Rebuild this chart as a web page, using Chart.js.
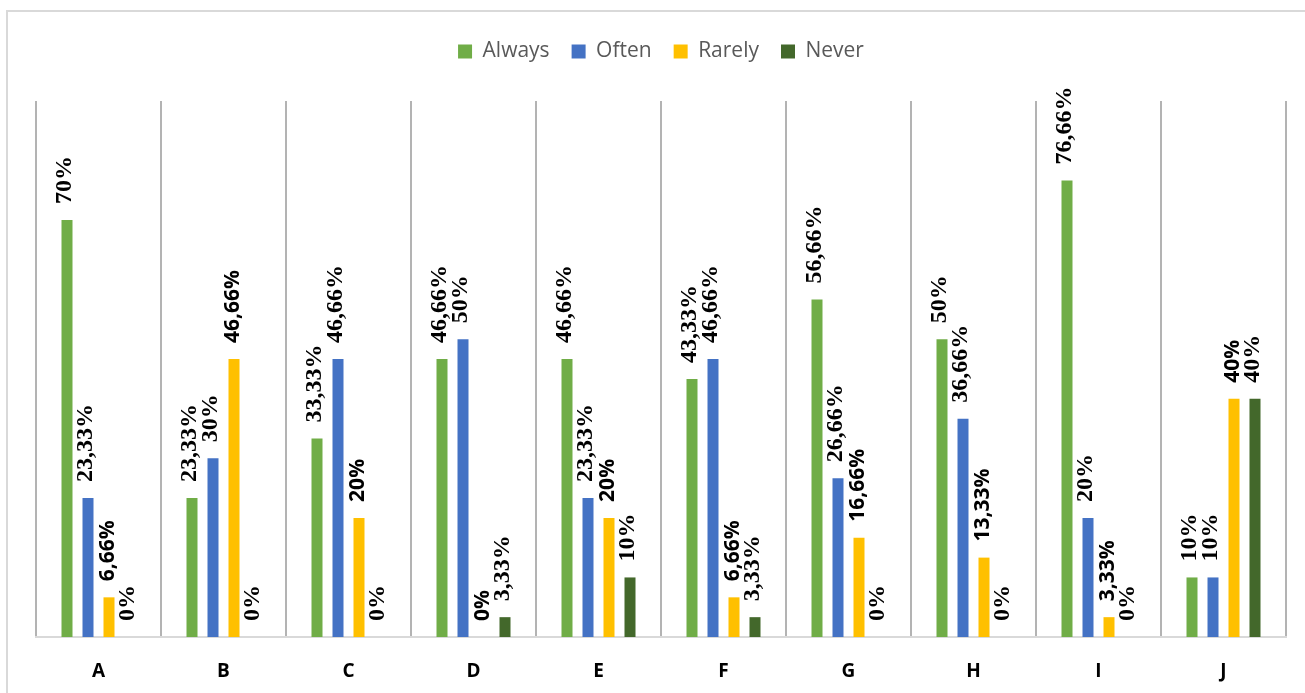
<!DOCTYPE html>
<html>
<head>
<meta charset="utf-8">
<script src="https://cdn.jsdelivr.net/npm/chart.js@4.4.1/dist/chart.umd.min.js"></script>
<style>
  html, body { margin: 0; padding: 0; background: #ffffff; }
  #wrap { position: relative; width: 1305px; height: 693px; }
  .preload { position: absolute; left: -9999px; top: 0; }
</style>
</head>
<body>
<div id="wrap"><canvas id="chart" width="1305" height="693"></canvas></div>
<span class="preload" style="font: bold 24px 'Liberation Serif'">0%</span>
<span class="preload" style="font: bold 21px 'Open Sans'">0%</span>
<span class="preload" style="font: 21px 'Open Sans'">Always</span>
<script>
// Survey answers per item, in percent
const categories = ['A', 'B', 'C', 'D', 'E', 'F', 'G', 'H', 'I', 'J'];
const always = [70, 23.33, 33.33, 46.66, 46.66, 43.33, 56.66, 50, 76.66, 10];
const often  = [23.33, 30, 46.66, 50, 23.33, 46.66, 26.66, 36.66, 20, 10];
const rarely = [6.66, 46.66, 20, 0, 20, 6.66, 16.66, 13.33, 3.33, 40];
const never  = [0, 0, 0, 3.33, 10, 3.33, 0, 0, 0, 40];
const seriesNames = ['Always', 'Often', 'Rarely', 'Never'];

const SERIF_LABEL = 'bold 24px "Liberation Serif", "DejaVu Serif", serif';
const SANS_LABEL = 'bold 21px "Open Sans", "Liberation Sans", sans-serif';

// Light frame around the whole chart
const framePlugin = {
  id: 'frame',
  beforeDraw(chart) {
    const ctx = chart.ctx;
    ctx.save();
    ctx.fillStyle = '#ffffff';
    ctx.fillRect(0, 0, chart.width, chart.height);
    ctx.strokeStyle = '#d9d9d9';
    ctx.lineWidth = 2;
    ctx.strokeRect(7, 11, 1400, 800);
    ctx.restore();
  }
};

// Extra room between legend and plot
const legendGapPlugin = {
  id: 'legendGap',
  beforeInit(chart) {
    const legend = chart.legend;
    if (!legend) return;
    const origFit = legend.fit;
    legend.fit = function () {
      origFit.call(this);
      this.height += 29;
    };
  }
};

// Vertical value labels above each bar
const valueLabelPlugin = {
  id: 'valueLabels',
  afterDatasetsDraw(chart) {
    const ctx = chart.ctx;
    chart.data.datasets.forEach((ds, di) => {
      const meta = chart.getDatasetMeta(di);
      if (meta.hidden) return;
      const font = ds.labelFont;
      ctx.save();
      ctx.font = font;
      const capH = ctx.measureText('0').actualBoundingBoxAscent || 16;
      ctx.restore();
      meta.data.forEach((bar, i) => {
        const v = ds.data[i];
        const text = String(v).replace('.', ',') + '%';
        ctx.save();
        ctx.translate(bar.x, bar.y - 16);
        ctx.rotate(-Math.PI / 2);
        ctx.font = font;
        ctx.fillStyle = '#000000';
        ctx.textAlign = 'left';
        ctx.textBaseline = 'alphabetic';
        ctx.fillText(text, 0, capH / 2);
        ctx.restore();
      });
    });
  }
};

const colors = ['#70AD47', '#4472C4', '#FFC000', '#43682B'];
const values = [always, often, rarely, never];
const labelFonts = [SERIF_LABEL, SERIF_LABEL, SANS_LABEL, SERIF_LABEL];

const datasets = seriesNames.map((name, i) => ({
  label: name,
  data: values[i],
  backgroundColor: colors[i],
  borderWidth: 0,
  categoryPercentage: 0.672,
  barPercentage: 0.524,
  labelFont: labelFonts[i]
}));

function build() {
  new Chart(document.getElementById('chart'), {
    type: 'bar',
    data: { labels: categories, datasets },
    options: {
      responsive: false,
      animation: false,
      devicePixelRatio: 1,
      layout: { padding: { top: 19, left: 36, right: 19, bottom: 0 } },
      plugins: {
        legend: {
          position: 'top',
          labels: {
            boxWidth: 14,
            boxHeight: 14,
            padding: 22,
            color: '#595959',
            font: { family: '"Open Sans", "Liberation Sans", sans-serif', size: 21 }
          }
        },
        tooltip: { enabled: false }
      },
      scales: {
        x: {
          afterFit(scale) { scale.height = 56; },
          grid: {
            display: true,
            offset: true,
            color: '#b3b3b3',
            lineWidth: 2,
            drawTicks: false
          },
          border: { display: true, color: '#d9d9d9', width: 2 },
          ticks: {
            color: '#000000',
            padding: 23,
            font: { family: '"Open Sans", "Liberation Sans", sans-serif', size: 19, weight: 'bold' }
          }
        },
        y: {
          display: false,
          min: 0,
          max: 90
        }
      }
    },
    plugins: [framePlugin, legendGapPlugin, valueLabelPlugin]
  });
}

Promise.all([
  document.fonts.load(SERIF_LABEL, '0123456789,%'),
  document.fonts.load(SANS_LABEL, '0123456789,%'),
  document.fonts.load('21px "Open Sans"', 'AlwaysOftenRarelyNever'),
  document.fonts.load('bold 19px "Open Sans"', 'ABCDEFGHIJ')
]).then(build, build);
</script>
</body>
</html>
